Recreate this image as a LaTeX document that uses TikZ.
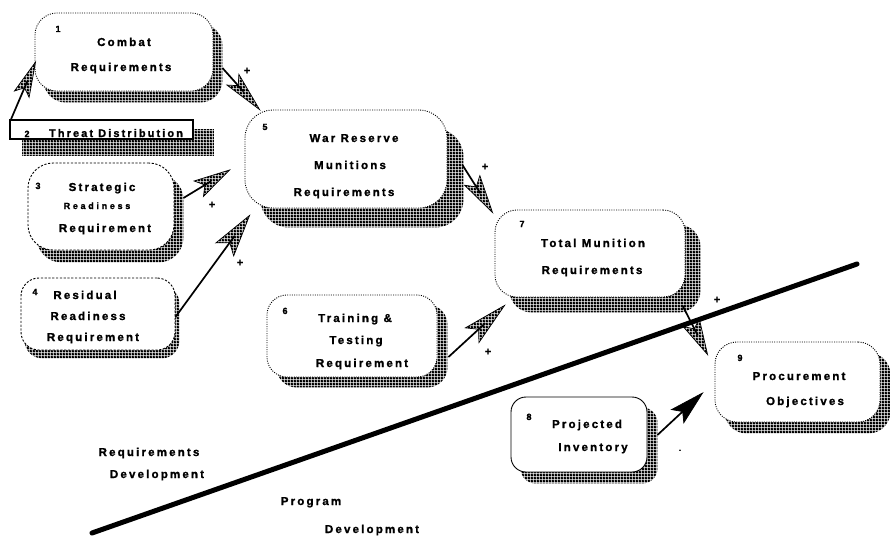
\documentclass[tikz,border=0pt]{standalone}
\usepackage{fontspec}
\setmainfont{Liberation Sans}[BoldFeatures={FakeBold=1.3}]
\newfontfamily\wide{Liberation Sans}[LetterSpace=19, BoldFeatures={FakeBold=1.3}]
\newfontfamily\wider{Liberation Sans}[LetterSpace=30, BoldFeatures={FakeBold=1.3}]
\usetikzlibrary{calc,patterns,backgrounds}

% fine dark mesh used for drop shadows and hollow arrow heads
\pgfdeclarepatternformonly{mesh}{\pgfpoint{0pt}{0pt}}{\pgfpoint{3pt}{3pt}}{\pgfpoint{3pt}{3pt}}{%
  \pgfpathrectangle{\pgfpointorigin}{\pgfpoint{3pt}{3pt}}%
  \pgfpathcircle{\pgfpoint{1.5pt}{1.5pt}}{0.65pt}%
  \pgfseteorule\pgfusepath{fill}}

\tikzset{
  procbox/.style={draw, fill=white, line width=0.9pt, inner sep=0pt, rectangle},
  dotline/.style={dash pattern=on 1pt off 1.3pt},
  dashline/.style={dash pattern=on 2.2pt off 1.6pt},
  shade/.style={pattern=mesh, pattern color=black},
  solidhead/.style={fill=black},
  headedge/.style={draw, line width=0.7pt, line join=miter},
  shaft/.style={line width=1.7pt},
  txt/.style={font=\wide\bfseries\fontsize{11.5}{13}\selectfont, inner sep=0pt, anchor=base},
  smalltxt/.style={font=\wider\bfseries\fontsize{9}{10}\selectfont, inner sep=0pt, anchor=base},
  num/.style={font=\bfseries\fontsize{9}{10}\selectfont, inner sep=0pt, anchor=base},
  sign/.style={font=\bfseries\fontsize{11}{12}\selectfont, inner sep=0pt},
  divider/.style={line width=5pt, line cap=round}
}

% shaft plus a kite shaped head: [head style]{start}{tip}{length}{half width}
\newcommand\hatcharrow[5][shade]{%
  \draw[shaft] (#2) -- ($(#3)!0.6*#4pt!(#2)$);
  \draw[headedge,#1] (#3)
    -- ($($(#3)!#4pt!(#2)$)!#5pt!90:(#3)$)
    -- ($(#3)!0.8*#4pt!(#2)$)
    -- ($($(#3)!#4pt!(#2)$)!#5pt!-90:(#3)$) -- cycle;
}

\begin{document}
\begin{tikzpicture}[x=1pt, y=-1pt]
\useasboundingbox (0,0) rectangle (890,535);
\begin{scope}[on background layer]
  \fill[white] (0,0) rectangle (890,535);
\end{scope}

% process boxes
\node[procbox, dotline, rounded corners=22pt, minimum width=178pt, minimum height=78pt] (n1) at (124,52) {};
\node[procbox, line width=1.8pt, minimum width=183pt, minimum height=19pt] (n2) at (101.5,129.5) {};
\node[procbox, dashline, rounded corners=25pt, minimum width=146pt, minimum height=87pt] (n3) at (101,206.5) {};
\node[procbox, dashline, rounded corners=18pt, minimum width=154pt, minimum height=72pt] (n4) at (98,314) {};
\node[procbox, dotline, rounded corners=28pt, minimum width=202pt, minimum height=98pt] (n5) at (346,159) {};
\node[procbox, dotline, rounded corners=20pt, minimum width=170pt, minimum height=82pt] (n6) at (352,336) {};
\node[procbox, dotline, rounded corners=22pt, minimum width=190pt, minimum height=87pt] (n7) at (590,253.5) {};
\node[procbox, rounded corners=15pt, minimum width=136pt, minimum height=75pt] (n8) at (579,434.5) {};
\node[procbox, dotline, rounded corners=22pt, minimum width=165pt, minimum height=80pt] (n9) at (797.5,382) {};

% drop shadows
\begin{scope}[on background layer]
  \foreach \n/\dx/\dy/\r in {n1/9/11/22, n3/9/12/25, n4/4/8/18, n5/16/19/28,
                             n6/10/10/20, n7/15/15/22, n8/10/11/15, n9/10/11/22}
    \fill[shade, rounded corners=\r pt] ([shift={(\dx,\dy)}]\n.north west) rectangle ([shift={(\dx,\dy)}]\n.south east);
  \fill[shade] ([shift={(13,10)}]n2.north west) rectangle ([shift={(20,16)}]n2.south east);
\end{scope}

% box texts
\node[num] (l1) at (58,32) {1};
\node[txt] (l1a) at (124,46) {Combat};
\node[txt] (l1b) at (121,71) {Requirements};

\node[num] (l2) at (27,137) {2};
\node[txt, font=\wide\bfseries\fontsize{11}{13}\selectfont] (l2a) at (116,137) {Threat Distribution};

\node[num] (l3) at (38,189) {3};
\node[txt] (l3a) at (102,191) {Strategic};
\node[smalltxt] (l3b) at (97,209) {Readiness};
\node[txt] (l3c) at (105,232) {Requirement};

\node[num] (l4) at (35,295) {4};
\node[txt] (l4a) at (85,299) {Residual};
\node[txt] (l4b) at (88,320) {Readiness};
\node[txt] (l4c) at (93,341) {Requirement};

\node[num] (l5) at (265,130) {5};
\node[txt] (l5a) at (354,142) {War Reserve};
\node[txt] (l5b) at (350,169) {Munitions};
\node[txt] (l5c) at (344,196) {Requirements};

\node[num] (l6) at (285,314) {6};
\node[txt] (l6a) at (355,322) {Training \&};
\node[txt] (l6b) at (356,344) {Testing};
\node[txt] (l6c) at (362,367) {Requirement};

\node[num] (l7) at (522,227) {7};
\node[txt] (l7a) at (593,247) {Total Munition};
\node[txt] (l7b) at (592,274) {Requirements};

\node[num] (l8) at (529,420) {8};
\node[txt] (l8a) at (587,428) {Projected};
\node[txt] (l8b) at (593,451) {Inventory};

\node[num] (l9) at (740,361) {9};
\node[txt] (l9a) at (799,380) {Procurement};
\node[txt] (l9b) at (805,405) {Objectives};

% region divider and region labels
\coordinate (dl) at (92,533);
\coordinate (dr) at (857,264);
\draw[divider] (dl) -- (dr);
\node[txt] (rq1) at (149,456) {Requirements};
\node[txt] (rq2) at (157,478) {Development};
\node[txt] (pg1) at (311,505) {Program};
\node[txt] (pg2) at (372,533) {Development};

% connector end points
\coordinate (s21) at ([shift={(2,0)}]n2.north west);
\coordinate (t21) at ([shift={(1,10)}]n1.west);
\coordinate (s15) at ([shift={(9,16)}]n1.east);
\coordinate (t15) at ([shift={(15,0)}]n5.north west);
\coordinate (s35) at ([shift={(9,-8.5)}]n3.east);
\coordinate (t35) at ([shift={(-15,11)}]n5.west);
\coordinate (s45) at ([shift={(0,3)}]n4.east);
\coordinate (t45) at ([shift={(5,7)}]n5.south west);
\coordinate (s57) at ([shift={(15,6)}]n5.east);
\coordinate (t57) at ([shift={(-2,3)}]n7.north west);
\coordinate (s67) at ([shift={(11,21)}]n6.east);
\coordinate (t67) at ([shift={(10,8)}]n7.south west);
\coordinate (s79) at ([shift={(-3,8)}]n7.south east);
\coordinate (t79) at ([shift={(-7,13)}]n9.north west);
\coordinate (s89) at ([shift={(10,0.5)}]n8.east);
\coordinate (t89) at ([shift={(-12,11)}]n9.west);

% connectors
\hatcharrow{s21}{t21}{35}{8}
\hatcharrow{s15}{t15}{40}{8}
\hatcharrow{s35}{t35}{36}{9}
\hatcharrow{s45}{t45}{42}{11}
\hatcharrow{s57}{t57}{38}{9}
\hatcharrow{s67}{t67}{44}{10}
\hatcharrow{s79}{t79}{36}{9}
\hatcharrow[solidhead]{s89}{t89}{34}{9}

% connector signs
\node[sign] (p15) at (247,71) {+};
\node[sign] (p35) at (212,205) {+};
\node[sign] (p45) at (240,263) {+};
\node[sign] (p57) at (485,167) {+};
\node[sign] (p67) at (488,352) {+};
\node[sign] (p79) at (717,300) {+};
\node[sign, font=\bfseries\fontsize{7}{8}\selectfont] (m89) at (680,451) {-};
\end{tikzpicture}
\end{document}
